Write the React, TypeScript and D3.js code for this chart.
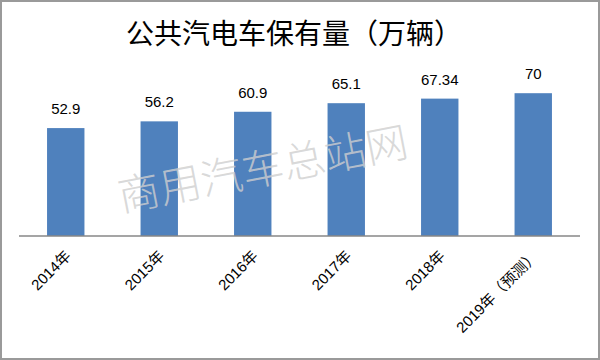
import React from "react";
import * as d3 from "d3";

const years = ["2014年", "2015年", "2016年", "2017年", "2018年", "2019年（预测）"];
const values = [52.9, 56.2, 60.9, 65.1, 67.34, 70];
const valueLabels = ["52.9", "56.2", "60.9", "65.1", "67.34", "70"];
const title = "公共汽电车保有量（万辆）";
const watermark = "商用汽车总站网";

const W = 600;
const H = 360;

const App = () => {
    // x 轴：六根柱子
    const x = d3
        .scaleBand<string>()
        .domain(years)
        .range([19, 580])
        .paddingInner(0.6)
        .paddingOuter(0.3);
    const y = d3.scaleLinear().domain([0, 80]).range([236, 72.8]);

    const font = "'Liberation Sans', 'Noto Sans CJK SC', sans-serif";

    return (
        <div style={{ position: "fixed", left: 0, top: 0 }}>
            <svg width={W} height={H} style={{ display: "block" }}>
                <rect x={0} y={0} width={W} height={H} fill="#fff" />
                <rect x={1} y={1} width={W - 2} height={H - 2} fill="none" stroke="#9a9a9a" strokeWidth={2} />

                <text
                    x={294}
                    y={44}
                    textAnchor="middle"
                    fontFamily="'Noto Sans CJK SC', serif"
                    fontSize={28}
                    fill="#000"
                >
                    {title}
                </text>

                {years.map((d, i) => (
                    <rect
                        key={d}
                        x={x(d)}
                        y={y(values[i])}
                        width={x.bandwidth()}
                        height={y(0) - y(values[i])}
                        fill="#4f81bd"
                    />
                ))}

                {/* 水印 */}
                <text
                    x={263}
                    y={184}
                    textAnchor="middle"
                    fontFamily="'Noto Sans CJK SC', serif"
                    fontWeight={300}
                    fontSize={42}
                    fill="#cfcfcf"
                    fillOpacity={0.8}
                    transform="rotate(-11 263 170)"
                >
                    {watermark}
                </text>

                <line x1={19} x2={580} y1={y(0)} y2={y(0)} stroke="#878787" strokeWidth={1.5} />

                {years.map((d, i) => (
                    <text
                        key={"v" + d}
                        x={(x(d) ?? 0) + x.bandwidth() / 2}
                        y={y(values[i]) - 14}
                        textAnchor="middle"
                        fontFamily={font}
                        fontSize={15}
                        fill="#000"
                    >
                        {valueLabels[i]}
                    </text>
                ))}

                {years.map((d) => {
                    const cx = (x(d) ?? 0) + x.bandwidth() / 2 + 6;
                    const cy = 257;
                    return (
                        <text
                            key={"t" + d}
                            x={cx}
                            y={cy}
                            textAnchor="end"
                            fontFamily={font}
                            fontSize={15}
                            fill="#000"
                            transform={`rotate(-45 ${cx} ${cy})`}
                        >
                            {d}
                        </text>
                    );
                })}
            </svg>
        </div>
    );
};

export default App;
